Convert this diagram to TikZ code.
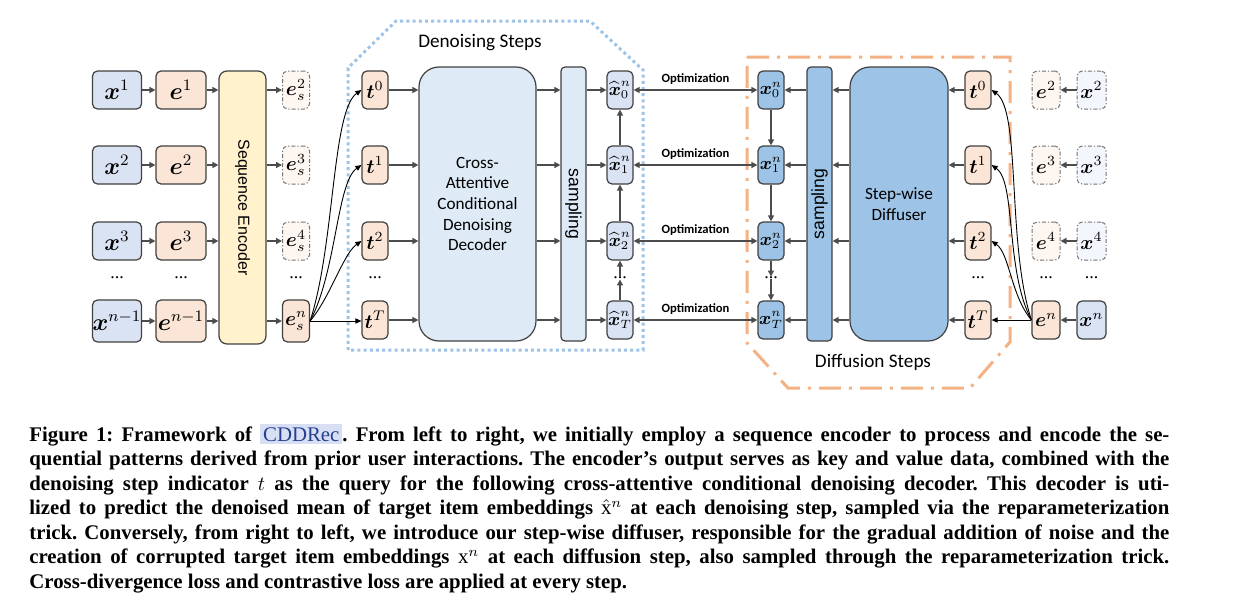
\documentclass[tikz,border=0pt]{standalone}
\usepackage{amsmath}
\usepackage{fontspec}
\setmainfont{Liberation Serif}
\newfontfamily\calfont{Carlito}
\newfontfamily\arifont{Liberation Sans}
\usetikzlibrary{arrows.meta}
\definecolor{xblue}{HTML}{DAE3F3}
\definecolor{eorange}{HTML}{FBE5D6}
\definecolor{encyellow}{HTML}{FFF2CC}
\definecolor{decblue}{HTML}{DEEBF7}
\definecolor{midblue}{HTML}{9DC3E6}
\definecolor{ghostor}{HTML}{FDF6F1}
\definecolor{ghostbl}{HTML}{F3F6FC}
\definecolor{edge}{HTML}{404040}
\definecolor{stepblue}{HTML}{9DC3E6}
\definecolor{steporange}{HTML}{F4B183}
\definecolor{hlc}{HTML}{D8DEF4}
\definecolor{cddc}{HTML}{24408E}
\newcommand\cddname{{\setlength{\fboxsep}{1.5pt}\colorbox{hlc}{\color{cddc}\mdseries CDDRec}}}
\frenchspacing
\begin{document}
\begin{tikzpicture}[x=0.5pt, y=0.5pt,
  blk/.style={draw=edge, line width=0.6pt, rounded corners=2.5pt, inner sep=0pt, minimum height=19pt, font=\fontsize{10}{12}\selectfont},
  xin/.style={blk, fill=xblue, minimum width=24.5pt, font=\fontsize{11.5}{13}\selectfont},
  ein/.style={blk, fill=eorange, minimum width=25pt, font=\fontsize{11.5}{13}\selectfont},
  tok/.style={blk, fill=eorange, minimum width=13pt},
  hatbox/.style={blk, fill=xblue, minimum width=13pt, font=\fontsize{8.6}{10}\selectfont},
  noisy/.style={blk, fill=midblue, minimum width=13pt, font=\fontsize{9.2}{10}\selectfont},
  ghost/.style={blk, draw=black!55, line width=0.5pt, dash pattern=on 2pt off 1pt on 0.6pt off 1pt, minimum width=14pt},
  dotsn/.style={inner sep=0pt, font=\fontsize{9}{10}\selectfont},
  link/.style={draw=black!70, line width=0.7pt, -{Triangle[length=3pt,width=3pt]}},
  thin/.style={draw=black, line width=0.45pt, -{Triangle[length=3pt,width=2.6pt]}},
  bar/.style={draw=edge, line width=0.6pt, rounded corners=2pt, minimum width=12.5pt, minimum height=137pt, inner sep=0pt},
  bigbox/.style={draw=edge, line width=0.6pt, rounded corners=10pt, minimum height=137pt, inner sep=0pt, font=\calfont\fontsize{8.6}{10.3}\selectfont, align=center},
  optlbl/.style={font=\calfont\bfseries\fontsize{6.3}{7}\selectfont, inner sep=0pt},
  steplbl/.style={font=\calfont\fontsize{9.6}{11}\selectfont, inner sep=0pt},
  capline/.style={anchor=base west, inner sep=0pt, font=\bfseries\fontsize{10.4}{12}\selectfont}]
\useasboundingbox (0,0) rectangle (1242,-605);
\draw[stepblue, line width=1.5pt, dash pattern=on 1.5pt off 1.6pt] (348,-350) -- (348,-68) -- (396,-21) -- (590,-21) -- (643,-70) -- (643,-350) -- cycle;
\draw[steporange, line width=1.5pt, dash pattern=on 11pt off 4pt on 1.5pt off 4pt] (747,-57) -- (1010,-57) -- (1010,-342) -- (970,-388) -- (788,-388) -- (747,-343) -- cycle;
\node[steplbl] (dnlbl) at (480,-43){Denoising Steps};
\node[steplbl] (dflbl) at (873,-362){Diffusion Steps};
\node[xin] (x1) at (117,-90){$\boldsymbol{x}^{1}$};
\node[ein] (e1) at (181,-90){$\boldsymbol{e}^{1}$};
\node[xin] (x2) at (117,-165){$\boldsymbol{x}^{2}$};
\node[ein] (e2) at (181,-165){$\boldsymbol{e}^{2}$};
\node[xin] (x3) at (117,-241){$\boldsymbol{x}^{3}$};
\node[ein] (e3) at (181,-241){$\boldsymbol{e}^{3}$};
\node[xin, minimum height=21pt] (xm) at (117,-321){$\boldsymbol{x}^{n-1}$};
\node[ein, minimum height=21pt] (em) at (181,-321){$\boldsymbol{e}^{n-1}$};
\node[dotsn] (dx) at (117,-278){...};
\node[dotsn] (de) at (181,-278){...};
\node[draw=edge, line width=0.6pt, fill=encyellow, rounded corners=4pt, minimum width=23.5pt, minimum height=136.5pt, inner sep=0pt, label={[rotate=-90, font=\arifont\fontsize{8}{9}\selectfont]center:Sequence Encoder}] (enc) at (242.5,-207.5){};
\node[ghost, fill=ghostor, minimum width=13.5pt] (es2) at (296,-90){$\boldsymbol{e}_{s}^{2}$};
\node[ghost, fill=ghostor, minimum width=13.5pt] (es3) at (296,-165){$\boldsymbol{e}_{s}^{3}$};
\node[ghost, fill=ghostor, minimum width=13.5pt] (es4) at (296,-241){$\boldsymbol{e}_{s}^{4}$};
\node[tok, minimum width=13.5pt, minimum height=21pt] (esn) at (296,-321){$\boldsymbol{e}_{s}^{n}$};
\node[dotsn] (des) at (296,-278){...};
\draw[link](x1) -- (e1);
\draw[link](x2) -- (e2);
\draw[link](x3) -- (e3);
\draw[link](xm) -- (em);
\draw[link](e1) -- (e1 -| enc.west);
\draw[link](e2) -- (e2 -| enc.west);
\draw[link](e3) -- (e3 -| enc.west);
\draw[link](em) -- (em -| enc.west);
\draw[link](enc.east |- es2) -- (es2);
\draw[link](enc.east |- es3) -- (es3);
\draw[link](enc.east |- es4) -- (es4);
\draw[link](enc.east |- esn) -- (esn);
\node[tok] (t0) at (375,-90){$\boldsymbol{t}^{0}$};
\node[tok] (t1) at (375,-165){$\boldsymbol{t}^{1}$};
\node[tok] (t2) at (375,-241){$\boldsymbol{t}^{2}$};
\node[tok] (tT) at (375,-320){$\boldsymbol{t}^{T}$};
\node[dotsn] (dt) at (375,-278){...};
\draw[thin](esn.east) to[out=72, in=215, out distance=40pt, in distance=18pt] (t0.west);
\draw[thin](esn.east) to[out=62, in=215, out distance=28pt, in distance=15pt] (t1.west);
\draw[thin](esn.east) to[out=50, in=215, out distance=16pt, in distance=11pt] (t2.west);
\draw[thin](esn.east) -- (esn.east -| tT.west);
\node[bigbox, fill=decblue, minimum width=58.5pt] (dec) at (477.5,-204){Cross-\\Attentive\\Conditional\\Denoising\\Decoder};
\node[bar, fill=decblue, label={[rotate=-90, font=\arifont\fontsize{8.8}{10}\selectfont]center:sampling}] (samL) at (573.5,-204){};
\node[hatbox] (xh0) at (620,-90){$\widehat{\boldsymbol{x}}_{0}^{n}$};
\node[hatbox] (xh1) at (620,-165){$\widehat{\boldsymbol{x}}_{1}^{n}$};
\node[hatbox] (xh2) at (620,-241){$\widehat{\boldsymbol{x}}_{2}^{n}$};
\node[hatbox] (xhT) at (620,-320){$\widehat{\boldsymbol{x}}_{T}^{n}$};
\node[dotsn] (dxh) at (620,-278){...};
\draw[link](t0) -- (t0 -| dec.west);
\draw[link](t1) -- (t1 -| dec.west);
\draw[link](t2) -- (t2 -| dec.west);
\draw[link](tT) -- (tT -| dec.west);
\draw[link](dec.east |- t0) -- (samL.west |- t0);
\draw[link](dec.east |- t1) -- (samL.west |- t1);
\draw[link](dec.east |- t2) -- (samL.west |- t2);
\draw[link](dec.east |- tT) -- (samL.west |- tT);
\draw[link](samL.east |- xh0) -- (xh0);
\draw[link](samL.east |- xh1) -- (xh1);
\draw[link](samL.east |- xh2) -- (xh2);
\draw[link](samL.east |- xhT) -- (xhT);
\draw[link](xh1) -- (xh0);
\draw[link](xh2) -- (xh1);
\draw[link](dxh) -- (xh2);
\draw[link](xhT) -- (dxh);
\node[noisy] (xn0) at (771,-90){$\boldsymbol{x}_{0}^{n}$};
\node[noisy] (xn1) at (771,-165){$\boldsymbol{x}_{1}^{n}$};
\node[noisy] (xn2) at (771,-241){$\boldsymbol{x}_{2}^{n}$};
\node[noisy] (xnT) at (771,-320){$\boldsymbol{x}_{T}^{n}$};
\node[dotsn] (dxn) at (771,-278){...};
\draw[link, {Triangle[length=3pt,width=3pt]}-{Triangle[length=3pt,width=3pt]}](xh0) -- node[optlbl, above=2.5pt] (opt0){Optimization} (xn0);
\draw[link, {Triangle[length=3pt,width=3pt]}-{Triangle[length=3pt,width=3pt]}](xh1) -- node[optlbl, above=2.5pt] (opt1){Optimization} (xn1);
\draw[link, {Triangle[length=3pt,width=3pt]}-{Triangle[length=3pt,width=3pt]}](xh2) -- node[optlbl, above=2.5pt] (opt2){Optimization} (xn2);
\draw[link, {Triangle[length=3pt,width=3pt]}-{Triangle[length=3pt,width=3pt]}](xhT) -- node[optlbl, above=2.5pt] (optT){Optimization} (xnT);
\node[bar, fill=midblue, label={[rotate=90, font=\arifont\fontsize{8.8}{10}\selectfont]center:sampling}] (samR) at (819.5,-204){};
\node[bigbox, fill=midblue, minimum width=49pt] (dif) at (899,-204){Step-wise\\Diffuser};
\node[tok] (tr0) at (978,-90){$\boldsymbol{t}^{0}$};
\node[tok] (tr1) at (978,-165){$\boldsymbol{t}^{1}$};
\node[tok] (tr2) at (978,-241){$\boldsymbol{t}^{2}$};
\node[tok] (trT) at (978,-320){$\boldsymbol{t}^{T}$};
\node[dotsn] (dtr) at (978,-278){...};
\draw[link](xn0) -- (xn1);
\draw[link](xn1) -- (xn2);
\draw[link](xn2) -- (dxn);
\draw[link](dxn) -- (xnT);
\draw[link](samR.west |- xn0) -- (xn0);
\draw[link](samR.west |- xn1) -- (xn1);
\draw[link](samR.west |- xn2) -- (xn2);
\draw[link](samR.west |- xnT) -- (xnT);
\draw[link](dif.west |- tr0) -- (samR.east |- tr0);
\draw[link](dif.west |- tr1) -- (samR.east |- tr1);
\draw[link](dif.west |- tr2) -- (samR.east |- tr2);
\draw[link](dif.west |- trT) -- (samR.east |- trT);
\draw[link](tr0) -- (tr0 -| dif.east);
\draw[link](tr1) -- (tr1 -| dif.east);
\draw[link](tr2) -- (tr2 -| dif.east);
\draw[link](trT) -- (trT -| dif.east);
\node[ghost, fill=ghostor] (er2) at (1046,-90){$\boldsymbol{e}^{2}$};
\node[ghost, fill=ghostor] (er3) at (1046,-165){$\boldsymbol{e}^{3}$};
\node[ghost, fill=ghostor] (er4) at (1046,-241){$\boldsymbol{e}^{4}$};
\node[ein, minimum width=14pt, font=\fontsize{10}{12}\selectfont] (ern) at (1046,-320){$\boldsymbol{e}^{n}$};
\node[dotsn] (der) at (1046,-278){...};
\node[ghost, fill=ghostbl, minimum width=14.5pt] (xr2) at (1091.5,-90){$\boldsymbol{x}^{2}$};
\node[ghost, fill=ghostbl, minimum width=14.5pt] (xr3) at (1091.5,-165){$\boldsymbol{x}^{3}$};
\node[ghost, fill=ghostbl, minimum width=14.5pt] (xr4) at (1091.5,-241){$\boldsymbol{x}^{4}$};
\node[xin, minimum width=14.5pt, font=\fontsize{10}{12}\selectfont] (xrn) at (1091.5,-320){$\boldsymbol{x}^{n}$};
\node[dotsn] (dxr) at (1091.5,-278){...};
\draw[link](xr2) -- (er2);
\draw[link](xr3) -- (er3);
\draw[link](xr4) -- (er4);
\draw[link](xrn) -- (ern);
\draw[thin](ern.west) -- (ern.west -| trT.east);
\draw[thin](ern.west) to[out=108, in=-35, out distance=40pt, in distance=18pt] (tr0.east);
\draw[thin](ern.west) to[out=118, in=-35, out distance=28pt, in distance=15pt] (tr1.east);
\draw[thin](ern.west) to[out=130, in=-35, out distance=16pt, in distance=11pt] (tr2.east);
\node[capline] (cap1) at (29,-441){\makebox[570pt][s]{Figure 1: Framework of \cddname. From left to right, we initially employ a sequence encoder to process and encode the se-}};
\node[capline] (cap2) at (29,-465.5){\makebox[570pt][s]{quential patterns derived from prior user interactions. The encoder’s output serves as key and value data, combined with the}};
\node[capline] (cap3) at (29,-490){\makebox[570pt][s]{denoising step indicator $t$ as the query for the following cross-attentive conditional denoising decoder. This decoder is uti-}};
\node[capline] (cap4) at (29,-514.5){\makebox[570pt][s]{lized to predict the denoised mean of target item embeddings $\hat{\mathrm{x}}^{n}$ at each denoising step, sampled via the reparameterization}};
\node[capline] (cap5) at (29,-539){\makebox[570pt][s]{trick. Conversely, from right to left, we introduce our step-wise diffuser, responsible for the gradual addition of noise and the}};
\node[capline] (cap6) at (29,-563.5){\makebox[570pt][s]{creation of corrupted target item embeddings $\mathrm{x}^{n}$ at each diffusion step, also sampled through the reparameterization trick.}};
\node[capline] (cap7) at (29,-588){Cross-divergence loss and contrastive loss are applied at every step.};
\end{tikzpicture}
\end{document}
